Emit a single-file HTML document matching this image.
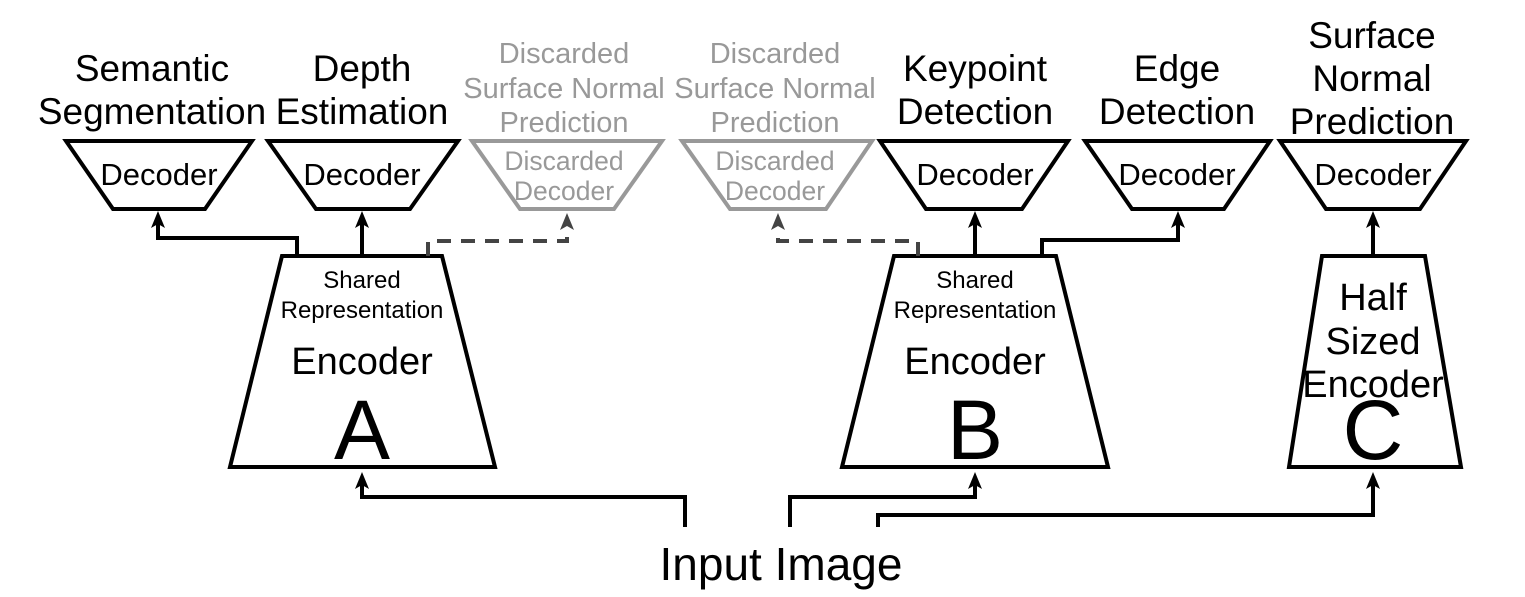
<!DOCTYPE html>
<html><head><style>body{margin:0;background:#fff}svg{display:block}text{font-family:"Liberation Sans",sans-serif;text-anchor:middle}</style></head><body>
<svg width="1525" height="597" viewBox="0 0 1525 597">
<g fill="none" stroke="#000" stroke-width="4">
<polygon points="66,141 252,141 205,209 113,209"/>
<polygon points="268,141 458,141 410,209 316,209"/>
<polygon points="880,141 1068,141 1022,209 926,209"/>
<polygon points="1085,141 1270,141 1224,209 1132,209"/>
<polygon points="1280,141 1466,141 1420,209 1326,209"/>
<polygon points="282,256 442,256 495,467 230,467"/>
<polygon points="894,256 1056,256 1108,467 842,467"/>
<polygon points="1322,256 1425,256 1461,467 1289,467"/>
</g>
<g fill="none" stroke="#999" stroke-width="4">
<polygon points="472,141 662,141 614,209 520,209"/>
<polygon points="682,141 872,141 826,209 730,209"/>
</g>
<g fill="none" stroke="#000" stroke-width="4">
<path d="M297,256 V238 H158 V220"/>
<path d="M362,256 V220"/>
<path d="M975,256 V220"/>
<path d="M1042,256 V240 H1178 V220"/>
<path d="M1373,256 V220"/>
<path d="M685,527 V497 H362 V481"/>
<path d="M790,527 V497 H975 V481"/>
<path d="M878,527 V515 H1373 V481"/>
</g>
<g fill="#000">
<polygon points="158,211 151,228 158,224 165,228"/>
<polygon points="362,211 355,228 362,224 369,228"/>
<polygon points="975,211 968,228 975,224 982,228"/>
<polygon points="1178,211 1171,228 1178,224 1185,228"/>
<polygon points="1373,211 1366,228 1373,224 1380,228"/>
<polygon points="362,472 355,489 362,485 369,489"/>
<polygon points="975,472 968,489 975,485 982,489"/>
<polygon points="1373,472 1366,489 1373,485 1380,489"/>
</g>
<g fill="none" stroke="#444" stroke-width="4">
<path d="M428,256 V241 H567 V228" stroke-dasharray="14,10"/>
<path d="M918,256 V241 H778 V228" stroke-dasharray="14,10"/>
</g>
<g fill="#444">
<polygon points="567,213 560,230 567,226 574,230"/>
<polygon points="778,213 771,230 778,226 785,230"/>
</g>
<g font-size="37" fill="#000">
<text x="152" y="81">Semantic</text><text x="152" y="124">Segmentation</text>
<text x="362" y="81">Depth</text><text x="362" y="124">Estimation</text>
<text x="975" y="81">Keypoint</text><text x="975" y="124">Detection</text>
<text x="1177" y="81">Edge</text><text x="1177" y="124">Detection</text>
<text x="1372" y="48">Surface</text><text x="1372" y="91">Normal</text><text x="1372" y="134">Prediction</text>
</g>
<g font-size="38" fill="#000">
<text x="362" y="374">Encoder</text><text x="975" y="374">Encoder</text>
<text x="1373" y="310">Half</text><text x="1373" y="354">Sized</text><text x="1373" y="397">Encoder</text>
<text x="781" y="580" font-size="46">Input Image</text>
</g>
<g font-size="29" fill="#999">
<text x="564" y="63">Discarded</text><text x="564" y="98">Surface Normal</text><text x="564" y="132">Prediction</text>
<text x="775" y="63">Discarded</text><text x="775" y="98">Surface Normal</text><text x="775" y="132">Prediction</text>
<text x="564" y="170" font-size="26.5">Discarded</text><text x="564" y="200" font-size="26.5">Decoder</text>
<text x="775" y="170" font-size="26.5">Discarded</text><text x="775" y="200" font-size="26.5">Decoder</text>
</g>
<g font-size="31" fill="#000">
<text x="159" y="185">Decoder</text><text x="362" y="185">Decoder</text><text x="975" y="185">Decoder</text><text x="1177" y="185">Decoder</text><text x="1373" y="185">Decoder</text>
</g>
<g font-size="24" fill="#000">
<text x="362" y="288">Shared</text><text x="362" y="318">Representation</text>
<text x="975" y="288">Shared</text><text x="975" y="318">Representation</text>
</g>
<g font-size="84" fill="#000">
<text x="362" y="459">A</text><text x="975" y="459">B</text><text x="1373" y="459">C</text>
</g>
</svg>
</body></html>
